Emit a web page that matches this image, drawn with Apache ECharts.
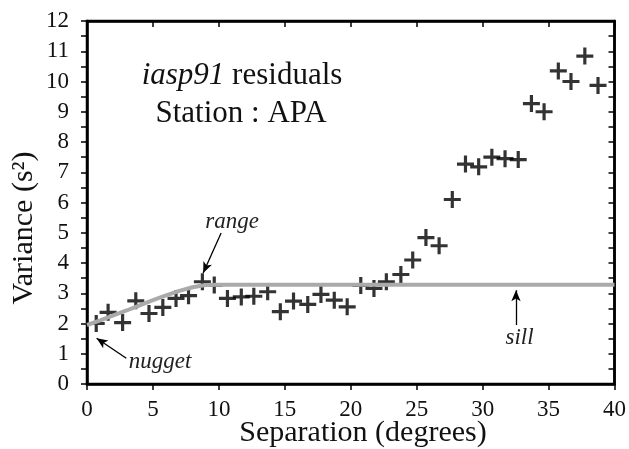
<!DOCTYPE html>
<html>
<head>
<meta charset="utf-8">
<script src="https://cdn.jsdelivr.net/npm/echarts@6/dist/echarts.min.js"></script>
<style>
  html, body { margin: 0; padding: 0; background: #fff; }
  #main { width: 629px; height: 449px; }
</style>
</head>
<body>
<div id="main"></div>
<script>
// separation (degrees) of each residual pair bin
var sepDeg = [0.7, 1.6, 2.7, 3.7, 4.7, 5.75, 6.75, 7.7, 8.75, 9.65,
              10.65, 11.7, 12.65, 13.7, 14.66, 15.66, 16.74, 17.74, 18.75, 19.73,
              20.76, 21.76, 22.7, 23.8, 24.7, 25.7, 26.7, 27.7, 28.7, 29.7,
              30.7, 31.7, 32.7, 33.7, 34.66, 35.74, 36.7, 37.75, 38.75];
// variance (s^2)
var variance = [2.0, 2.37, 2.03, 2.75, 2.33, 2.53, 2.83, 2.92, 3.38, 3.27,
                2.83, 2.88, 2.9, 3.05, 2.39, 2.74, 2.63, 2.96, 2.77, 2.55,
                3.26, 3.16, 3.38, 3.62, 4.1, 4.84, 4.57, 6.1, 7.27, 7.18,
                7.5, 7.45, 7.42, 9.27, 9.0, 10.35, 10.0, 10.84, 9.87];
// fitted variogram model (grey curve)
var modelX = [0, 1, 2, 3, 4, 5, 6, 7, 8, 9, 10, 40];
var modelY = [1.95, 2.1, 2.27, 2.43, 2.6, 2.77, 2.93, 3.08, 3.2, 3.27, 3.28, 3.28];

var xTicks = [0, 5, 10, 15, 20, 25, 30, 35, 40];
var yTicks = [0, 1, 2, 3, 4, 5, 6, 7, 8, 9, 10, 11, 12];

var pts = sepDeg.map(function (x, i) { return [x, variance[i]]; });
var model = modelX.map(function (x, i) { return [x, modelY[i]]; });

var serif = '"Liberation Serif", "DejaVu Serif", serif';
var plus = 'path://M-1.5,-8L1.5,-8L1.5,-1.5L8,-1.5L8,1.5L1.5,1.5L1.5,8L-1.5,8L-1.5,1.5L-8,1.5L-8,-1.5L-1.5,-1.5Z';

var chart = echarts.init(document.getElementById('main'));

function frameLine() {
    return { show: true, onZero: false, lineStyle: { color: '#000', width: 2.5 } };
}
function ticks(inside) {
    return { show: true, inside: inside, length: 6, lineStyle: { color: '#000', width: 1.5 } };
}

var option = {
    animation: false,
    grid: {
        left: 87, right: 11, top: 21, bottom: 65,
        show: true, borderColor: '#000', borderWidth: 2.5, backgroundColor: 'transparent'
    },
    xAxis: [
        {
            type: 'value', position: 'bottom',
            min: 0, max: 40, interval: 5,
            axisLine: frameLine(),
            axisTick: ticks(false),
            axisLabel: { fontFamily: serif, fontSize: 23, color: '#111', margin: 14 },
            splitLine: { show: false }
        },
        {
            type: 'value', position: 'top',
            min: 0, max: 40, interval: 5,
            axisLine: frameLine(),
            axisTick: ticks(true),
            axisLabel: { show: false },
            splitLine: { show: false }
        }
    ],
    yAxis: [
        {
            type: 'value', position: 'left',
            min: 0, max: 12, interval: 0.5,
            axisLine: frameLine(),
            axisTick: ticks(false),
            axisLabel: {
                fontFamily: serif, fontSize: 23, color: '#111', margin: 18,
                formatter: function (v) { return yTicks.indexOf(v) >= 0 ? String(v) : ''; }
            },
            splitLine: { show: false }
        },
        {
            type: 'value', position: 'right',
            min: 0, max: 12, interval: 0.5,
            axisLine: frameLine(),
            axisTick: ticks(true),
            axisLabel: { show: false },
            splitLine: { show: false }
        }
    ],
    graphic: [
        {
            type: 'text', x: 242, y: 76,
            style: {
                text: '{i|iasp91} residuals',
                font: '31px ' + serif, fill: '#111',
                align: 'center', verticalAlign: 'middle',
                rich: { i: { fontStyle: 'italic', fontFamily: serif, fontSize: 31, fill: '#111' } }
            }
        },
        {
            type: 'text', x: 241, y: 114,
            style: { text: 'Station : APA', font: '31px ' + serif, fill: '#111', align: 'center', verticalAlign: 'middle' }
        },
        {
            // x axis name
            type: 'text', x: 363, y: 433,
            style: { text: 'Separation (degrees)', font: '30px ' + serif, fill: '#111', align: 'center', verticalAlign: 'middle' }
        },
        {
            // y axis name
            type: 'text', x: 24, y: 228, rotation: Math.PI / 2,
            style: { text: 'Variance (s²)', font: '30px ' + serif, fill: '#111', align: 'center', verticalAlign: 'middle' }
        }
    ],
    series: [
        {
            type: 'line',
            data: model,
            showSymbol: false,
            lineStyle: { color: '#aaaaaa', width: 4 },
            markLine: {
                silent: true,
                symbol: ['none', 'arrow'],
                symbolSize: [7, 11],
                label: { show: false },
                lineStyle: { color: '#000', width: 1.3, type: 'solid' },
                data: [
                    [{ coord: [10.17, 4.99] }, { coord: [8.81, 3.67] }],
                    [{ coord: [2.98, 0.85] }, { coord: [0.73, 1.51] }],
                    [{ coord: [32.53, 1.95] }, { coord: [32.53, 3.1] }]
                ]
            }
        },
        {
            type: 'scatter',
            data: pts,
            symbol: plus,
            symbolSize: 17,
            itemStyle: { color: '#000' },
            markPoint: {
                silent: true,
                symbolSize: 0,
                label: {
                    show: true, position: 'inside',
                    fontFamily: serif, fontStyle: 'italic', fontSize: 23, color: '#222',
                    formatter: function (p) { return p.name; }
                },
                data: [
                    { name: 'range', coord: [11.0, 5.35] },
                    { name: 'nugget', coord: [5.54, 0.74] },
                    { name: 'sill', coord: [32.8, 1.52] }
                ]
            }
        },
        // empty series bound to the top / right axes so they get drawn
        { type: 'line', xAxisIndex: 1, yAxisIndex: 1, data: [] }
    ]
};

chart.setOption(option);
</script>
</body>
</html>
